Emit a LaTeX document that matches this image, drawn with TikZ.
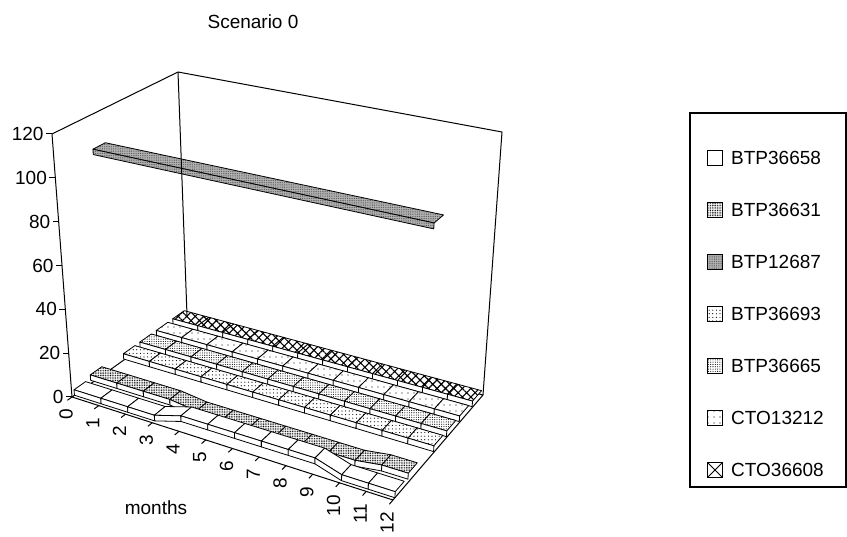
\documentclass[tikz,border=0pt]{standalone}
\usepackage{fontspec}
\setmainfont{Liberation Sans}
\usetikzlibrary{patterns.meta}

\tikzset{
    wall/.style={draw=black, line width=1pt, line join=round},
    ribbon/.style={draw=black, line width=0.8pt, line join=round},
    sw36658/.style={fill=white},
    sw36631/.style={preaction={fill=white}, pattern={Dots[distance=1.7pt, radius=0.55pt]}},
    sw12687/.style={preaction={fill=gray!60}, pattern={Dots[distance=1.8pt, radius=0.45pt]}, pattern color=black!75},
    sw36693/.style={preaction={fill=white}, pattern={Dots[distance=3.6pt, radius=0.6pt]}},
    sw36665/.style={preaction={fill=white}, pattern={Dots[distance=2.3pt, radius=0.55pt]}},
    sw13212/.style={preaction={fill=white}, pattern={Dots[distance=6pt, radius=0.7pt]}},
    sw36608/.style={preaction={fill=white}, pattern={Hatch[angle=45, distance=6pt, line width=1.1pt]}},
    legsw/.style={draw=black, line width=0.9pt, minimum width=15pt, minimum height=15pt, inner sep=0pt},
    legx/.style={fill=white, path picture={
        \draw[line width=1pt] (path picture bounding box.south west) -- (path picture bounding box.north east)
            (path picture bounding box.north west) -- (path picture bounding box.south east);}},
    leglabel/.style={anchor=west, font=\fontsize{19}{21}\selectfont, inner sep=0pt},
    ticklabel/.style={font=\fontsize{19}{21}\selectfont, inner sep=0pt},
}

\def\valsA{{2.5,2.5,2.5,2.5,6,6,6,6,6,6,2.5,2.5,2.5}}
\def\valsB{{4,4,4,4,2.5,2.5,2.5,2.5,2.5,2.5,2.5,4,4}}
\def\valsD{{3,3,3,3,3,3,3,3,3,3,3,3,3}}

\begin{document}
\begin{tikzpicture}[x=1pt, y=-1pt,
    declare function={
        bx(\fu,\fs)=(1-\fu)*(1-\fs)*72+\fu*(1-\fs)*393+\fu*\fs*483+(1-\fu)*\fs*187;
        by(\fu,\fs)=(1-\fu)*(1-\fs)*397+\fu*(1-\fs)*500+\fu*\fs*395+(1-\fu)*\fs*315;
        tx(\fu,\fs)=(1-\fu)*(1-\fs)*52+\fu*(1-\fs)*407+\fu*\fs*502+(1-\fu)*\fs*178;
        ty(\fu,\fs)=(1-\fu)*(1-\fs)*134+\fu*(1-\fs)*209+\fu*\fs*132+(1-\fu)*\fs*72;
        px(\fm,\fs,\fv)=bx(\fm/12,\fs)+\fv/120*(tx(\fm/12,\fs)-bx(\fm/12,\fs));
        py(\fm,\fs,\fv)=by(\fm/12,\fs)+\fv/120*(ty(\fm/12,\fs)-by(\fm/12,\fs));
    }]

    \useasboundingbox[fill=white] (0,0) rectangle (847,537);

    \node[ticklabel] (title) at (253,22) {Scenario 0};

    % walls and floor
    \coordinate (fl) at (72,397);
    \coordinate (fr) at (393,500);
    \coordinate (br) at (483,395);
    \coordinate (bl) at (187,315);
    \coordinate (flt) at (52,134);
    \coordinate (blt) at (178,72);
    \coordinate (brt) at (502,132);

    \draw[wall] (fl) -- (flt) -- (blt) -- (brt) -- (br);
    \draw[wall] (fl) -- (fr) -- (br) -- (bl) -- cycle;

    \foreach \v in {0,20,...,120}{
        \coordinate (yt\v) at ({px(0,0,\v)},{py(0,0,\v)});
        \draw[wall] (yt\v) -- ++(-6,0) node[ticklabel, anchor=east, xshift=-2pt] (ylab\v) {\v};
    }

    \foreach \m in {0,...,12}{
        \coordinate (mt\m) at ({px(\m,0,0)},{py(\m,0,0)});
        \coordinate (me\m) at ({px(\m,-0.04,0)},{py(\m,-0.04,0)});
        \draw[wall] (mt\m) -- (me\m);
        \node[ticklabel, rotate=90, anchor=east] (mlab\m) at ({px(\m,0,0)-6},{py(\m,0,0)+12}) {\m};
    }

    \node[ticklabel] (months) at (156,508) {months};

    % floor ribbons, back to front
    \foreach \k/\sty/\vals in {6/sw36608/\valsD, 5/sw13212/\valsD, 4/sw36665/\valsD,
            3/sw36693/\valsD, 1/sw36631/\valsB, 0/sw36658/\valsA}{
        \pgfmathsetmacro\sa{(\k+0.15)/7}
        \pgfmathsetmacro\sb{(\k+0.85)/7}
        \foreach \i in {0,...,11}{
            \pgfmathtruncatemacro\j{\i+1}
            \pgfmathsetmacro\va{\vals[\i]}
            \pgfmathsetmacro\vb{\vals[\j]}
            \coordinate (p1) at ({px(\i,\sa,\va)},{py(\i,\sa,\va)});
            \coordinate (p2) at ({px(\j,\sa,\vb)},{py(\j,\sa,\vb)});
            \coordinate (p3) at ({px(\j,\sb,\vb)},{py(\j,\sb,\vb)});
            \coordinate (p4) at ({px(\i,\sb,\va)},{py(\i,\sb,\va)});
            \coordinate (q1) at ({px(\i,\sa,\va-2.5)},{py(\i,\sa,\va-2.5)});
            \coordinate (q2) at ({px(\j,\sa,\vb-2.5)},{py(\j,\sa,\vb-2.5)});
            \draw[ribbon, \sty] (p1) -- (p2) -- (p3) -- (p4) -- cycle;
            \draw[ribbon, fill=white] (p1) -- (p2) -- (q2) -- (q1) -- cycle;
        }
    }

    % the high ribbon
    \coordinate (h1) at ({px(0,2.15/7,104)},{py(0,2.15/7,104)});
    \coordinate (h2) at ({px(12,2.15/7,104)},{py(12,2.15/7,104)});
    \coordinate (h3) at ({px(12,2.85/7,104)},{py(12,2.85/7,104)});
    \coordinate (h4) at ({px(0,2.85/7,104)},{py(0,2.85/7,104)});
    \coordinate (h5) at ({px(12,2.15/7,101.5)},{py(12,2.15/7,101.5)});
    \coordinate (h6) at ({px(0,2.15/7,101.5)},{py(0,2.15/7,101.5)});
    \draw[ribbon, sw12687] (h1) -- (h2) -- (h3) -- (h4) -- cycle;
    \draw[ribbon, sw12687] (h1) -- (h2) -- (h5) -- (h6) -- cycle;

    \draw[wall] (blt) -- (bl);

    % legend
    \draw[line width=1.1pt] (690,113) rectangle (846,487);
    \foreach \n/\sty/\lab [count=\r from 0] in {a/sw36658/BTP36658, b/sw36631/BTP36631,
            c/sw12687/BTP12687, d/sw36693/BTP36693, e/sw36665/BTP36665,
            f/sw13212/CTO13212, g/legx/CTO36608}{
        \node[legsw, \sty] (sw\n) at (715,{158+52*\r}) {};
        \node[leglabel] (lab\n) at (731,{158+52*\r}) {\lab};
    }

\end{tikzpicture}
\end{document}
